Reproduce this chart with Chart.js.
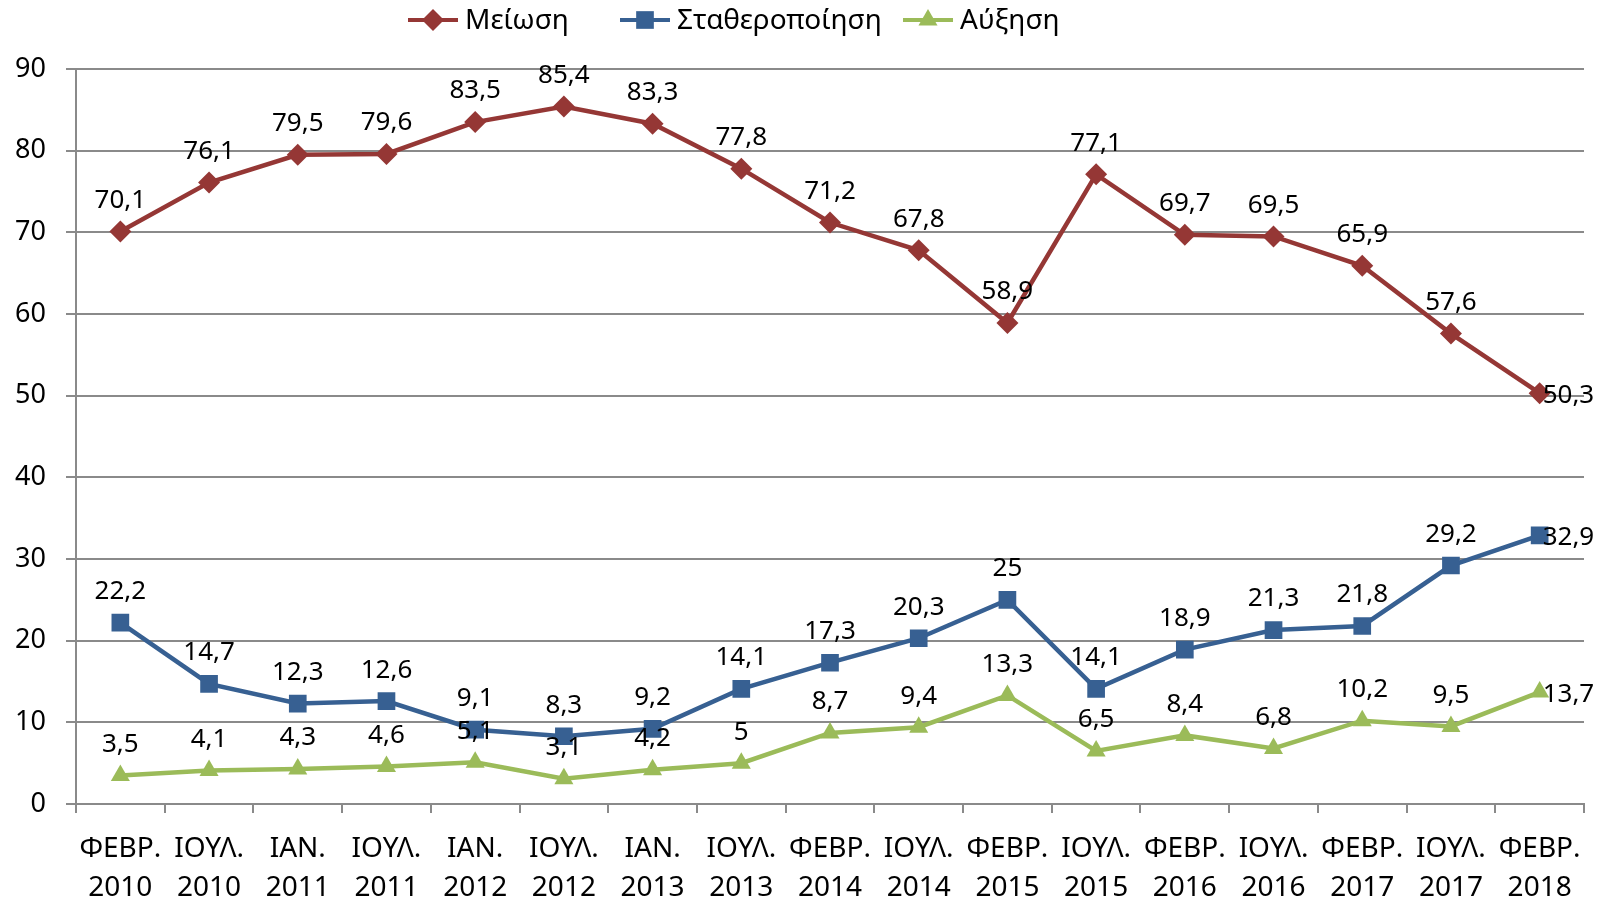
<!DOCTYPE html>
<html>
<head>
<meta charset="utf-8">
<script src="https://cdn.jsdelivr.net/npm/chart.js@4.4.0/dist/chart.umd.min.js"></script>
<style>
html, body { margin: 0; padding: 0; background: #fff; }
</style>
</head>
<body>
<canvas id="trendChart" width="1612" height="900"></canvas>
<script>
// ========== Data ==========
const periods = [
    ['ΦΕΒΡ.', '2010'], ['ΙΟΥΛ.', '2010'], ['ΙΑΝ.', '2011'], ['ΙΟΥΛ.', '2011'],
    ['ΙΑΝ.', '2012'], ['ΙΟΥΛ.', '2012'], ['ΙΑΝ.', '2013'], ['ΙΟΥΛ.', '2013'],
    ['ΦΕΒΡ.', '2014'], ['ΙΟΥΛ.', '2014'], ['ΦΕΒΡ.', '2015'], ['ΙΟΥΛ.', '2015'],
    ['ΦΕΒΡ.', '2016'], ['ΙΟΥΛ.', '2016'], ['ΦΕΒΡ.', '2017'], ['ΙΟΥΛ.', '2017'],
    ['ΦΕΒΡ.', '2018']
];
const decrease = [70.1, 76.1, 79.5, 79.6, 83.5, 85.4, 83.3, 77.8, 71.2, 67.8, 58.9, 77.1, 69.7, 69.5, 65.9, 57.6, 50.3];
const stable = [22.2, 14.7, 12.3, 12.6, 9.1, 8.3, 9.2, 14.1, 17.3, 20.3, 25, 14.1, 18.9, 21.3, 21.8, 29.2, 32.9];
const increase = [3.5, 4.1, 4.3, 4.6, 5.1, 3.1, 4.2, 5, 8.7, 9.4, 13.3, 6.5, 8.4, 6.8, 10.2, 9.5, 13.7];
const seriesNames = ['Μείωση', 'Σταθεροποίηση', 'Αύξηση'];
const yMin = 0, yMax = 90, yStep = 10;

const FONT = '"Noto Sans", sans-serif';
const gridColor = '#8a8a8a';

// ========== Plugins ==========
// legend drawn as in the original (line + marker, then text)
const legendStarts = [408, 620, 903];
const lineLegend = {
    id: 'lineLegend',
    afterDraw(chart) {
        const ctx = chart.ctx;
        ctx.save();
        ctx.font = '28px ' + FONT;
        ctx.textBaseline = 'middle';
        ctx.textAlign = 'left';
        const y = 20;
        chart.data.datasets.forEach((ds, i) => {
            const x = legendStarts[i];
            ctx.strokeStyle = ds.borderColor;
            ctx.lineWidth = 4;
            ctx.beginPath();
            ctx.moveTo(x, y);
            ctx.lineTo(x + 50, y);
            ctx.stroke();
            ctx.fillStyle = ds.borderColor;
            Chart.helpers.drawPoint(ctx, {
                pointStyle: ds.pointStyle,
                radius: ds.pointRadius,
                borderWidth: 0,
                rotation: 0
            }, x + 25, y);
            ctx.fillStyle = '#000';
            ctx.fillText(ds.label, x + 57, y + 1);
        });
        ctx.restore();
    }
};

// value labels with a decimal comma
const valueLabels = {
    id: 'valueLabels',
    afterDatasetsDraw(chart) {
        const ctx = chart.ctx;
        ctx.save();
        ctx.font = '26px ' + FONT;
        ctx.fillStyle = '#000';
        ctx.textBaseline = 'middle';
        chart.data.datasets.forEach((ds, di) => {
            const meta = chart.getDatasetMeta(di);
            meta.data.forEach((pt, i) => {
                const txt = String(ds.data[i]).replace('.', ',');
                if (i === ds.data.length - 1) {
                    ctx.textAlign = 'left';
                    ctx.fillText(txt, pt.x + 3, pt.y + 2);
                } else {
                    ctx.textAlign = 'center';
                    ctx.fillText(txt, pt.x, pt.y - 31);
                }
            });
        });
        ctx.restore();
    }
};

// ========== Chart ==========
const ctx = document.getElementById('trendChart');
new Chart(ctx, {
    type: 'line',
    data: {
        labels: periods,
        datasets: [{
            label: seriesNames[0],
            data: decrease,
            borderColor: '#953735',
            backgroundColor: '#953735',
            pointStyle: 'rectRot',
            pointRadius: 11,
            borderWidth: 4.5,
            pointBorderWidth: 0,
            tension: 0
        }, {
            label: seriesNames[1],
            data: stable,
            borderColor: '#376092',
            backgroundColor: '#376092',
            pointStyle: 'rect',
            pointRadius: 12.5,
            borderWidth: 4.5,
            pointBorderWidth: 0,
            tension: 0
        }, {
            label: seriesNames[2],
            data: increase,
            borderColor: '#9bbb59',
            backgroundColor: '#9bbb59',
            pointStyle: 'triangle',
            pointRadius: 11,
            borderWidth: 4.5,
            pointBorderWidth: 0,
            tension: 0
        }]
    },
    options: {
        responsive: false,
        animation: false,
        devicePixelRatio: 1,
        layout: { padding: { top: 69, right: 28, left: 0, bottom: 0 } },
        plugins: {
            legend: { display: false },
            tooltip: { enabled: false }
        },
        scales: {
            x: {
                offset: true,
                grid: {
                    offset: true,
                    drawOnChartArea: false,
                    drawTicks: true,
                    tickLength: 9,
                    color: gridColor,
                    lineWidth: 2
                },
                border: { color: gridColor, width: 2 },
                ticks: {
                    color: '#000',
                    font: { family: FONT, size: 28, lineHeight: 1.4 },
                    padding: 16,
                    maxRotation: 0,
                    autoSkip: false
                },
                afterFit(scale) { scale.height = 96; }
            },
            y: {
                min: yMin,
                max: yMax,
                grid: {
                    color: gridColor,
                    lineWidth: 2,
                    tickLength: 10
                },
                border: { color: gridColor, width: 2 },
                ticks: {
                    stepSize: yStep,
                    color: '#000',
                    font: { family: FONT, size: 27 },
                    padding: 20
                },
                afterFit(scale) { scale.width = 76; }
            }
        }
    },
    plugins: [lineLegend, valueLabels]
});
</script>
</body>
</html>
